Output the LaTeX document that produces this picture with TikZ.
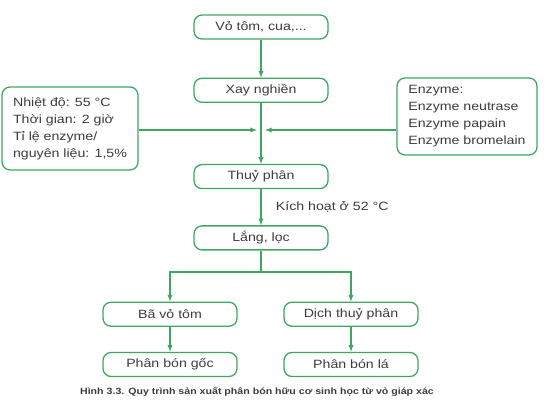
\documentclass[tikz,border=0pt]{standalone}
\usepackage{fontspec}
\setmainfont[FakeStretch=1.18]{Liberation Sans}
\usepackage{tikz}
\usetikzlibrary{arrows, positioning}
\definecolor{flowgreen}{RGB}{62,168,96}
\definecolor{txtgray}{RGB}{60,60,60}
\tikzstyle{process} = [rectangle, rounded corners=8pt, minimum width=134pt, minimum height=24pt, text centered, draw=flowgreen, line width=1.3pt, text=txtgray]
\tikzstyle{note} = [rectangle, rounded corners=8pt, align=left, anchor=center, draw=flowgreen, line width=1.3pt, text=txtgray, inner xsep=11pt]
\tikzstyle{arrow} = [draw=flowgreen, line width=1.3pt, ->, >=latex]
\tikzstyle{line} = [draw=flowgreen, line width=1.3pt]

\begin{document}
\begin{tikzpicture}[x=1pt, y=-1pt, font=\fontsize{12}{17}\selectfont]
        \useasboundingbox (0,0) rectangle (549,406);
        \node (vo) [process] at (261,27) {Vỏ tôm, cua,...};
        \node (xay) [process, below=38pt of vo] {Xay nghiền};
        \node (thuy) [process, below=61pt of xay] {Thuỷ phân};
        \node (lang) [process, below=36pt of thuy] {Lắng, lọc};
        \node (ba) [process, below=51pt of lang, xshift=-91pt] {Bã vỏ tôm};
        \node (dich) [process, below=51pt of lang, xshift=90pt] {Dịch thuỷ phân};
        \node (goc) [process, below=25pt of ba] {Phân bón gốc};
        \node (la) [process, below=25pt of dich] {Phân bón lá};

        \node (dieukien) [note, minimum width=130pt, minimum height=83pt] at (70,128.5) {Nhiệt độ: 55 °C\\Thời gian: 2 giờ\\Tỉ lệ enzyme/\\nguyên liệu: 1,5\%};
        \node (enzyme) [note, minimum width=140pt, minimum height=77pt] at (467,116.5) {Enzyme:\\Enzyme neutrase\\Enzyme papain\\Enzyme bromelain};

        \coordinate (inleft) at (257,130);
        \coordinate (inright) at (265,130);
        \coordinate (split) at (261,272);

        \draw [arrow] (vo) -- (xay);
        \draw [arrow] (xay) -- (thuy);
        \draw [arrow] (dieukien.east |- inleft) -- (inleft);
        \draw [arrow] (enzyme.west |- inright) -- (inright);
        \draw [arrow] (thuy) -- node[right, xshift=11pt, text=txtgray] {Kích hoạt ở 52 °C} (lang);
        \draw [line] (lang) -- (split);
        \draw [arrow] (split) -| (ba);
        \draw [arrow] (split) -| (dich);
        \draw [arrow] (ba) -- (goc);
        \draw [arrow] (dich) -- (la);

        \node (caption) [text=txtgray, font=\fontsize{9}{11}\selectfont\bfseries] at (257,392) {Hình 3.3. Quy trình sản xuất phân bón hữu cơ sinh học từ vỏ giáp xác};
    \end{tikzpicture}
\end{document}
